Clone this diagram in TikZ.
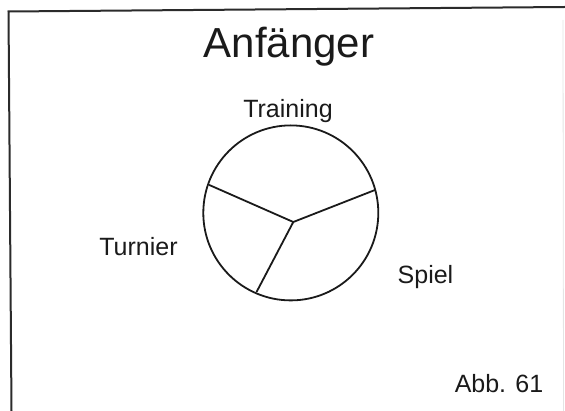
\documentclass[tikz,border=0pt]{standalone}
\usepackage{fontspec}
\setmainfont{Liberation Sans}
\usetikzlibrary{positioning}
\definecolor{abbink}{HTML}{1A1A1A}
\definecolor{abbframe}{HTML}{2B2B2B}
\definecolor{abbfaint}{HTML}{E4E4E4}
\tikzset{
  ttl/.style={anchor=base, font=\fontsize{42}{48}\selectfont, color=abbink, inner sep=0pt},
  lbl/.style={anchor=base, font=\fontsize{25}{30}\selectfont, color=abbink, inner sep=0pt},
  rim/.style={draw=abbink, line width=1.8pt},
  spoke/.style={draw=abbink, line width=1.8pt, line cap=round},
  frm/.style={draw=abbframe, line width=2pt},
}
\begin{document}
\begin{tikzpicture}[x=1pt, y=-1pt]
    \useasboundingbox (0,0) rectangle (565,411);
    % frame (only top and left show)
    \coordinate (tl) at (8.5,11.5);
    \coordinate (tr) at (565,7);
    \coordinate (bl) at (11.5,411);
    \draw[frm] (bl) -- (tl) -- (tr);
    \draw[abbfaint, line width=0.8pt] (563,20) -- (563.5,411);
    % pie
    \coordinate (ctr) at (290.8,212.9);
    \draw[rim] (ctr) circle[radius=87.5];
    \coordinate (hub) at (293.3,222);
    \coordinate (eL) at (209.3,185);
    \coordinate (eR) at (375,190);
    \coordinate (eB) at (256.7,291.7);
    \foreach \e in {eL,eR,eB}
      { \draw[spoke] (hub) -- (\e); }
    % texts
    \node[ttl] (title) at (289,58) {Anfänger};
    \node[lbl] (training) at (288,118) {Training};
    \node[lbl] (turnier) at (138.5,256) {Turnier};
    \node[lbl] (spiel) at (425.5,284) {Spiel};
    \node[lbl] (abb) at (499,393) {Abb. 61};
\end{tikzpicture}
\end{document}
